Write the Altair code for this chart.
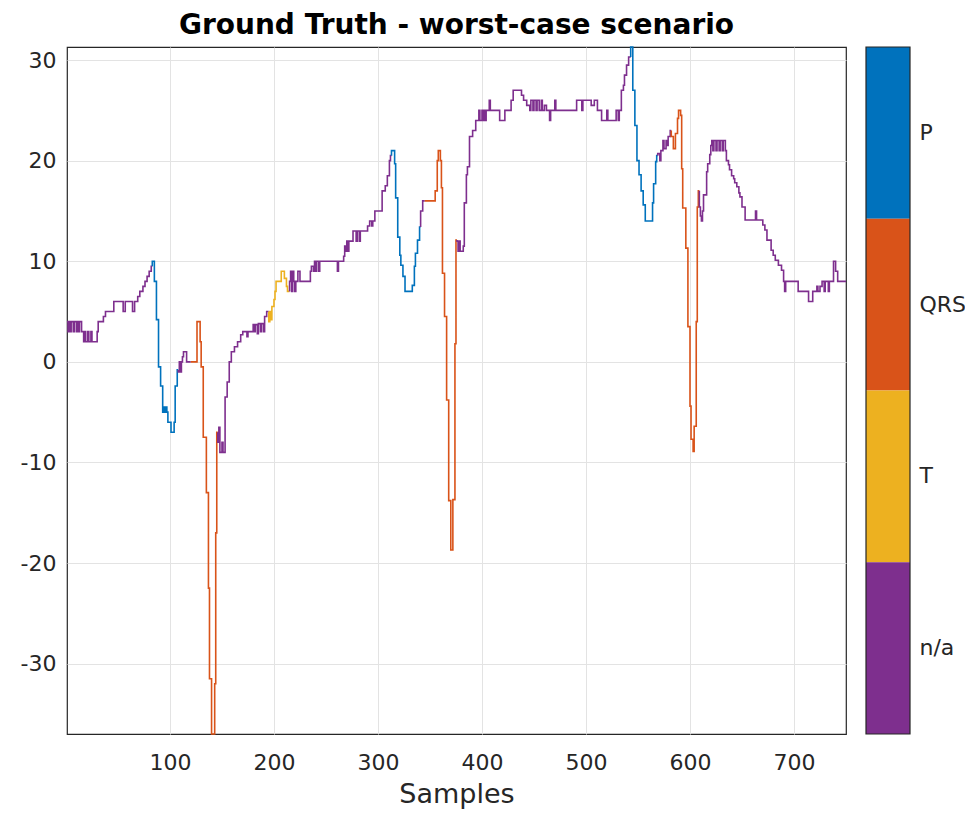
import altair as alt
import pandas as pd

# ---- signal as step breakpoints: value holds from step_x[i] until next breakpoint ----
step_x = [1, 2, 3, 4, 5, 7, 8, 10, 11, 12, 13, 15, 17, 18, 19, 21, 22, 24, 25, 30, 31, 36, 38, 46, 55, 57, 64, 66, 69, 71, 74, 76, 78, 80, 82,
          83, 85, 87, 89, 91, 93, 94, 95, 96, 97, 98, 101, 104, 105, 107,
          108, 109, 110, 111, 112, 113, 116,
          120, 126, 129, 130, 132, 135, 137, 138, 140, 143, 144, 145,
          146, 147, 148, 150, 151, 153, 155, 157, 159, 162, 165, 168, 170, 174, 175, 180, 181, 182, 184, 185, 187, 188, 190, 191, 193,
          195, 196, 197, 198, 200, 201, 202, 207, 210, 212, 213,
          215, 216, 217, 218, 219, 220, 221, 223, 225, 235, 236, 238, 239, 240, 241, 243, 244, 261, 262, 267, 268, 269, 270, 271, 272,
          276, 279, 280, 282, 283, 290, 292, 294, 295, 297, 304, 307, 309, 311, 312,
          313, 316, 317, 319, 321, 322, 324, 326, 333, 335, 336, 338, 340,
          341, 343,
          345, 355, 357, 358, 360, 361, 362, 364, 366, 368, 370, 372, 374, 375,
          376, 377, 378, 379, 382, 383, 385, 386, 388, 391, 394, 397, 398, 400, 401, 402, 403, 404, 407, 408, 417, 422, 428, 430, 438,
          440, 443, 446, 447, 449, 450, 452, 453, 455, 457, 458, 460, 462, 465, 466, 470, 471, 491, 496, 497, 505, 508, 511, 515, 520,
          521, 529, 531, 532, 534, 536, 537, 539, 541,
          543, 545, 547, 549, 551, 553, 555, 557, 564, 565, 567, 568,
          569, 571, 572, 574, 575, 577, 578, 579, 581,
          582, 584, 586, 588, 589, 591, 592, 593, 596, 598, 600, 601, 603, 604, 606, 607, 608,
          609, 610, 611, 612, 613, 616, 617, 619, 620, 621, 622, 623, 625, 626, 628, 629, 631, 632, 634, 635, 637, 638, 640, 642, 643,
          645, 647, 648, 650, 653, 663, 664, 670, 672, 674, 678, 680, 682, 685, 688, 690, 691, 692, 704, 714, 718, 722, 723, 725, 727,
          729, 730, 733, 734, 738, 740, 742]
step_y = [4, 3, 4, 3, 4, 3, 4, 3, 4, 3, 4, 3, 2, 3, 2, 3, 2, 3, 2, 3, 4, 4.5, 5, 6, 5, 6, 5, 6, 6.5, 7, 7.5, 8, 8.5, 9, 9.5,
          10, 8, 4.2, -0.5, -2.4, -5, -4.5, -5, -4.5, -5, -6, -7, -6, -2.4, -0.8,
          -1, 0, -1, 0, 0.5, 1, 0,
          0, 4, 2, -0.5, -7.5, -13, -22.5, -31.5, -37, -32, -17, -7,
          -8, -6.5, -9, -8, -9, -3.5, -2, 0, 1, 1.5, 2, 2.7, 3, 2.5, 3, 3.7, 3, 3.7, 2.8, 3.8, 3, 3.8, 3, 4.5, 5,
          4, 5, 4.2, 5.5, 6.2, 7, 8, 9, 8.3, 7.5, 7,
          8, 9, 7, 9, 8, 7, 8, 9, 8, 9, 9.5, 9, 10, 9, 10, 9, 10, 9, 10, 10.5, 11.5, 11, 12, 11, 12,
          13, 12, 13, 12, 13, 13.5, 14, 13.5, 14, 15, 17, 17.5, 18.5, 20, 20.5,
          21, 19.7, 16.3, 12.4, 10.6, 9.6, 8.5, 7, 7.6, 9.5, 10.8, 12.1, 13.4,
          15, 16,
          16, 17, 20, 21, 20, 17.3, 8.8, 4.5, -3.8, -13.8, -18.7, -13.7, 1.8, 12.1,
          12, 11, 12, 11, 11.5, 15.8, 18.6, 19.4, 22.4, 23, 24, 25, 24, 25, 24, 25, 24, 25, 26, 25, 24, 25, 26, 27, 26.5,
          26, 25.5, 25, 26, 25, 26, 25, 26, 25, 26, 25, 25.5, 25, 24, 25, 26, 25, 26, 25, 26, 25.5, 26, 25, 24, 25,
          24, 25, 24, 25, 27, 27.5, 28.5, 29.5, 30.3,
          31.3, 27, 23.5, 20, 18.6, 17, 15.6, 14, 15.8, 17.7, 19.9, 20.5,
          20.7, 20, 21, 22, 21.2, 22, 21.5, 22.4, 23,
          22.4, 21.2, 22.7, 24.2, 25, 24.5, 19.2, 15.3, 11.3, 3.5, -4.4, -7.7, -8.9, -6.4, 4, 15.4, 17,
          15.4, 14.5, 14, 15, 16.6, 18.9, 19.7, 20.6, 21.5, 22, 21, 22, 21, 22, 21, 22, 21, 22, 21, 20, 19.6, 19.1, 18.5, 18.2, 17.8,
          17.4, 16.8, 16.4, 15.4, 14.1, 15, 14.1, 13.6, 13.1, 12.1, 11.1, 10.6, 10.1, 9.6, 9.1, 8, 7, 8, 7, 6, 7, 7.5, 7, 7.5, 8,
          7, 8, 7, 8, 10, 9, 8]

# ---- ground-truth segmentation: segment start sample and its class ----
seg_start = [1, 83, 108, 120, 146, 195, 215, 313, 341, 345, 376, 543, 569, 582, 609]
seg_label = ["n/a", "P", "n/a", "QRS", "n/a", "T", "n/a", "P", "n/a", "QRS", "n/a", "P", "n/a", "QRS", "n/a"]
last_sample = 750

classes = ["P", "QRS", "T", "n/a"]
class_colors = ["#0072BD", "#D95319", "#EDB120", "#7E2F8E"]
x_ticks = [100, 200, 300, 400, 500, 600, 700]
y_ticks = [-30, -20, -10, 0, 10, 20, 30]


def val_at(x):
    v = step_y[0]
    for bx, by in zip(step_x, step_y):
        if bx <= x:
            v = by
        else:
            break
    return v


def val_before(x):
    v = step_y[0]
    for bx, by in zip(step_x, step_y):
        if bx < x:
            v = by
        else:
            break
    return v


rows = []
order = 0
for k, (a, lab) in enumerate(zip(seg_start, seg_label)):
    b = seg_start[k + 1] if k + 1 < len(seg_start) else last_sample
    pts = []
    if k > 0:
        pts.append((a, val_before(a)))
    pts.append((a, val_at(a)))
    pts += [(bx, by) for bx, by in zip(step_x, step_y) if a < bx < b]
    pts.append((b, val_before(b) if b != last_sample else val_at(b)))
    for x, y in pts:
        rows.append({"seg": k, "cls": lab, "x": x, "y": y, "o": order})
        order += 1
df = pd.DataFrame(rows)

W, H = 779, 687
FONT = "DejaVu Sans"
color_scale = alt.Scale(domain=classes, range=class_colors)

line = alt.Chart(df).mark_line(interpolate="step-after", strokeWidth=1.6).encode(
    x=alt.X("x:Q", title="Samples",
            scale=alt.Scale(domain=[1, last_sample], nice=False, zero=False),
            axis=alt.Axis(values=x_ticks, labelPadding=18, titlePadding=8,
                          labelExpr="'' + datum.value")),
    y=alt.Y("y:Q", title=None,
            scale=alt.Scale(domain=[-37, 31.3], nice=False, zero=False),
            axis=alt.Axis(values=y_ticks, labelPadding=11,
                          labelExpr="'' + datum.value")),
    color=alt.Color("cls:N", scale=color_scale, legend=None),
    detail="seg:N",
    order="o:Q",
)

cbar_df = pd.DataFrame({"cls": classes})
cbar = alt.Chart(cbar_df).mark_rect().encode(
    x=alt.value(W + 20),
    x2=alt.value(W + 64),
    y=alt.Y("cls:N", sort=classes, title=None,
            scale=alt.Scale(paddingInner=0, paddingOuter=0),
            axis=alt.Axis(orient="right", offset=64, labelPadding=9, ticks=False,
                          domain=False, grid=False, labelFontSize=22)),
    color=alt.Color("cls:N", scale=color_scale, legend=None),
)

cbar_box = alt.Chart(pd.DataFrame({"a": [0]})).mark_rect(
    fillOpacity=0, stroke="#262626", strokeWidth=1.2).encode(
    x=alt.value(W + 20), x2=alt.value(W + 64), y=alt.value(0), y2=alt.value(H))

chart = alt.layer(line, cbar, cbar_box).resolve_scale(y="independent").properties(
    width=W, height=H,
    autosize=alt.AutoSizeParams(type="none"),
    padding={"left": 59, "top": 39, "right": 119, "bottom": 79},
    title=alt.TitleParams("Ground Truth - worst-case scenario", font=FONT, fontSize=28,
                          fontWeight="bold", color="#000000", anchor="middle",
                          frame="group", offset=4),
).configure_view(stroke="#262626", strokeWidth=1.2).configure_axis(
    labelFont=FONT, labelFontSize=22, labelColor="#262626",
    titleFont=FONT, titleFontSize=27, titleFontWeight="normal", titleColor="#262626",
    domain=False, ticks=False, gridColor="#e3e3e3", gridWidth=1,
)

chart.save("out.html", embed_options={"renderer": "svg", "actions": False})
